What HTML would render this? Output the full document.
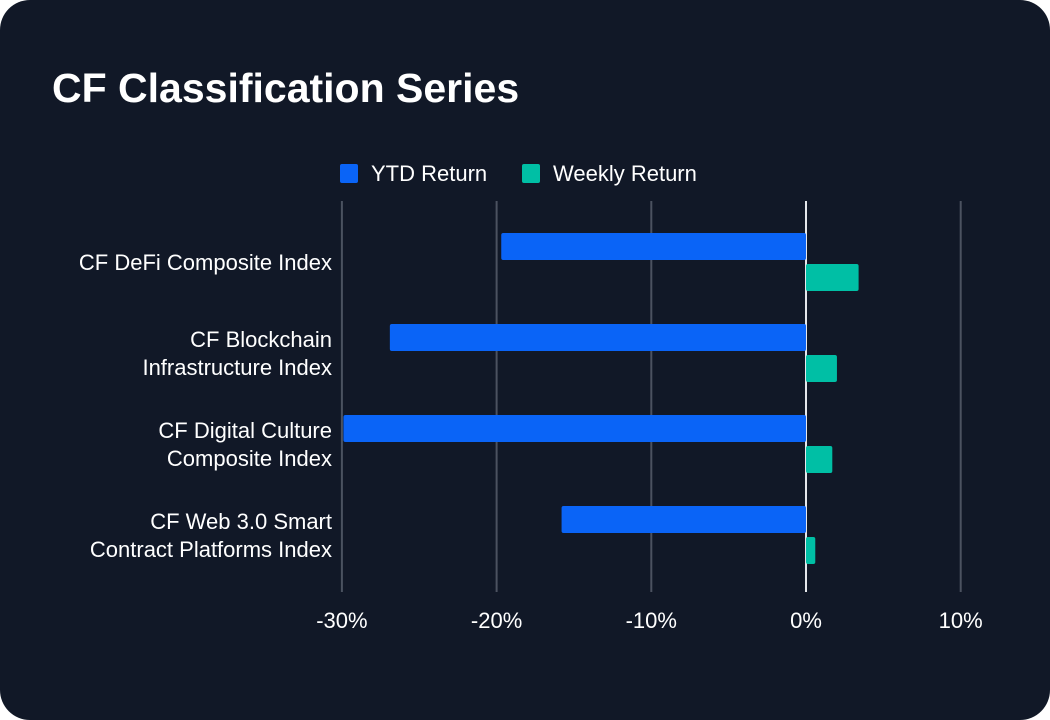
<!DOCTYPE html>
<html><head><meta charset="utf-8"><style>
html,body{margin:0;padding:0;background:#fff;width:1050px;height:720px;overflow:hidden}
#card{position:absolute;left:0;top:0;width:1050px;height:720px;background:#111827;border-radius:30px}
svg{position:absolute;left:0;top:0}
text{font-family:"Liberation Sans",sans-serif}
</style></head><body>
<div id="card">
<svg id="chart" width="1050" height="720">
<text x="52" y="102" fill="#fff" font-size="41" font-weight="bold">CF Classification Series</text>
<g>
<rect x="340" y="164" width="18" height="19" rx="2" fill="#0a64f7"/>
<text x="371" y="181" fill="#fff" font-size="22">YTD Return</text>
<rect x="522" y="164" width="18" height="19" rx="2" fill="#00bfa5"/>
<text x="553" y="181" fill="#fff" font-size="22">Weekly Return</text>
</g>
<g id="grid"></g><g id="bars"></g><g id="labels"></g>
</svg>
</div>
<script>
const categories=[["CF DeFi Composite Index"],["CF Blockchain","Infrastructure Index"],["CF Digital Culture","Composite Index"],["CF Web 3.0 Smart","Contract Platforms Index"]];
const ytd=[-19.7,-26.9,-29.9,-15.8];
const weekly=[3.4,2.0,1.7,0.6];
const ticks=[-30,-20,-10,0,10];
const tickLabels=["-30%","-20%","-10%","0%","10%"];
const NS="http://www.w3.org/2000/svg";
const x=v=>806+v*15.47;
const yc=i=>262+i*91;
function mk(tag,attrs,parent){const e=document.createElementNS(NS,tag);for(const k in attrs)e.setAttribute(k,attrs[k]);parent.appendChild(e);return e;}
const grid=document.getElementById('grid'),bars=document.getElementById('bars'),labels=document.getElementById('labels');
ticks.forEach((t,i)=>{
 const l=mk('line',{x1:x(t),x2:x(t),y1:201,y2:592,stroke:t===0?'#e5e7eb':'#4b5260','stroke-width':2},grid);
 
 
 const tx=mk('text',{x:x(t),y:628,fill:'#fff','font-size':22,'text-anchor':'middle'},labels);
 tx.textContent=tickLabels[i];
 
 
});
categories.forEach((c,i)=>{
 const c0=yc(i);
 const a=ytd[i],b=weekly[i];
 const r1=mk('rect',{x:Math.min(x(a),x(0)),y:c0-29,width:Math.abs(x(a)-x(0)),height:27,rx:2,fill:'#0a64f7'},bars);
 
 
 const r2=mk('rect',{x:Math.min(x(b),x(0)),y:c0+2,width:Math.abs(x(b)-x(0)),height:27,rx:2,fill:'#00bfa5'},bars);
 
 
 c.forEach((line,j)=>{
  const yy=c0+8+(j-(c.length-1)/2)*28;
  const t=mk('text',{x:332,y:yy,fill:'#fff','font-size':22,'text-anchor':'end'},labels);
  t.textContent=line;
  
  
 });
});
</script>
</body></html>
